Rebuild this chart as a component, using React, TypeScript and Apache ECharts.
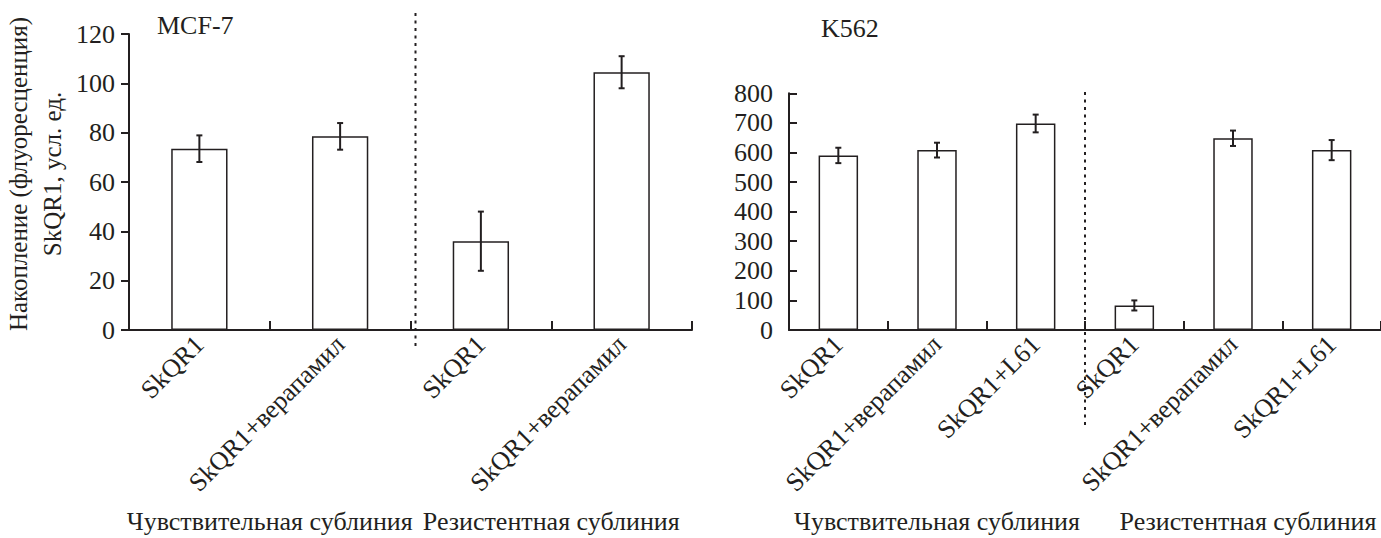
import React, { useEffect, useRef } from "react";
import * as echarts from "echarts";

const FONT = "'Liberation Serif', 'Times New Roman', serif";
const INK = "#231f20";

// MCF-7
const mcfCategories = ["SkQR1", "SkQR1+верапамил", "SkQR1", "SkQR1+верапамил"];
const mcfValues = [73.5, 78.5, 36, 104.5];
const mcfErrors = [5.4, 5.4, 12, 6.5];
const mcfTicks = { min: 0, max: 120, interval: 20 };

// K562
const k562Categories = ["SkQR1", "SkQR1+верапамил", "SkQR1+L61", "SkQR1", "SkQR1+верапамил", "SkQR1+L61"];
const k562Values = [590, 608, 698, 83, 648, 608];
const k562Errors = [26, 25, 30, 17, 26, 34];
const k562Ticks = { min: 0, max: 800, interval: 100 };

const groupLabels = ["Чувствительная сублиния", "Резистентная сублиния"];
const titles = ["MCF-7", "K562"];
const yAxisName = "Накопление (флуоресценция)\nSkQR1, усл. ед.";

const errorRender = (params: any, api: any) => {
  const x = api.value(0);
  const v = api.value(1);
  const e = api.value(2);
  const top = api.coord([x, v + e]);
  const bot = api.coord([x, v - e]);
  const hw = 3;
  const st = { stroke: INK, lineWidth: 2 };
  return {
    type: "group",
    children: [
      { type: "line", shape: { x1: top[0], y1: top[1], x2: bot[0], y2: bot[1] }, style: st },
      { type: "line", shape: { x1: top[0] - hw, y1: top[1], x2: top[0] + hw, y2: top[1] }, style: st },
      { type: "line", shape: { x1: bot[0] - hw, y1: bot[1], x2: bot[0] + hw, y2: bot[1] }, style: st },
    ],
  };
};

export default function App() {
  const ref = useRef<HTMLDivElement>(null);
  useEffect(() => {
    document.body.style.margin = "0";
    const chart = echarts.init(ref.current!, null, { renderer: "svg" });
    const textBase = { fontFamily: FONT, color: INK, fontSize: 26 };
    const catAxis = (grid: number, data: string[]) => ({
      type: "category",
      gridIndex: grid,
      data,
      position: "bottom",
      axisLine: { show: true, lineStyle: { color: INK, width: 2 } },
      axisTick: { show: true, inside: true, length: 9, lineStyle: { color: INK, width: 2 }, interval: 0 },
      axisLabel: { ...textBase, rotate: 45, interval: 0, margin: 10 },
    });
    const groupAxis = (grid: number, pad: number[]) => ({
      type: "category",
      gridIndex: grid,
      data: groupLabels,
      position: "bottom",
      axisLine: { show: false },
      axisTick: { show: false },
      axisLabel: {
        ...textBase,
        interval: 0,
        margin: 178,
        formatter: (v: string, i: number) => (i === 0 ? "{a|" + v + "}" : "{b|" + v + "}"),
        rich: {
          a: { ...textBase, padding: [0, pad[0], 0, 0] },
          b: { ...textBase, padding: [0, 0, 0, pad[1]] },
        },
      },
    });
    const valAxis = (grid: number, t: any, inside: boolean, name?: string) => ({
      type: "value",
      gridIndex: grid,
      min: t.min,
      max: t.max,
      interval: t.interval,
      splitLine: { show: false },
      axisLine: { show: true, lineStyle: { color: INK, width: 2 } },
      axisTick: { show: true, inside, length: 8, lineStyle: { color: INK, width: 2 } },
      axisLabel: { ...textBase, margin: inside ? 16 : 14 },
      name: name,
      nameLocation: "middle",
      nameRotate: 90,
      nameGap: 60,
      nameTextStyle: { ...textBase, fontSize: 25, lineHeight: 34, padding: [0, 0, 0, 16] },
    });
    const barStyle = { color: "#ffffff", borderColor: INK, borderWidth: 1.5 };
    chart.setOption({
      animation: false,
      title: [
        { text: titles[0], left: 157, top: 12, padding: 0, textStyle: { ...textBase, fontWeight: "normal" } },
        { text: titles[1], left: 821, top: 15, padding: 0, textStyle: { ...textBase, fontWeight: "normal" } },
      ],
      grid: [
        { left: 126, top: 34, width: 566, height: 296 },
        { left: 789, top: 93.3, width: 592, height: 236.7 },
      ],
      xAxis: [catAxis(0, mcfCategories), catAxis(1, k562Categories), groupAxis(0, [0, 0]), groupAxis(1, [0, 30])],
      yAxis: [valAxis(0, mcfTicks, false, yAxisName), valAxis(1, k562Ticks, true)],
      series: [
        { type: "bar", xAxisIndex: 0, yAxisIndex: 0, data: mcfValues, barWidth: "40%", itemStyle: barStyle },
        { type: "bar", xAxisIndex: 1, yAxisIndex: 1, data: k562Values, barWidth: "40%", itemStyle: barStyle },
        {
          type: "custom",
          xAxisIndex: 0,
          yAxisIndex: 0,
          renderItem: errorRender,
          encode: { x: 0, y: 1 },
          data: mcfValues.map((v, i) => [i, v, mcfErrors[i]]),
          z: 5,
        },
        {
          type: "custom",
          xAxisIndex: 1,
          yAxisIndex: 1,
          renderItem: errorRender,
          encode: { x: 0, y: 1 },
          data: k562Values.map((v, i) => [i, v, k562Errors[i]]),
          z: 5,
        },
      ],
    });
    const midX = (axis: number, a: number, b: number) =>
      ((chart.convertToPixel({ xAxisIndex: axis }, a) as number) +
        (chart.convertToPixel({ xAxisIndex: axis }, b) as number)) / 2;
    const x1 = midX(0, 1, 2);
    const x2 = midX(1, 2, 3);
    const dash = { stroke: INK, lineWidth: 2, lineDash: [3, 4.5] };
    chart.setOption({
      graphic: [
        { type: "line", shape: { x1: x1 + 5, y1: 13, x2: x1 + 5, y2: 348 }, style: dash, z: 10 },
        { type: "line", shape: { x1: x2, y1: 92, x2: x2, y2: 425 }, style: dash, z: 10 },
      ],
    });
    return () => chart.dispose();
  }, []);
  return <div ref={ref} style={{ width: 1381, height: 538 }} />;
}
